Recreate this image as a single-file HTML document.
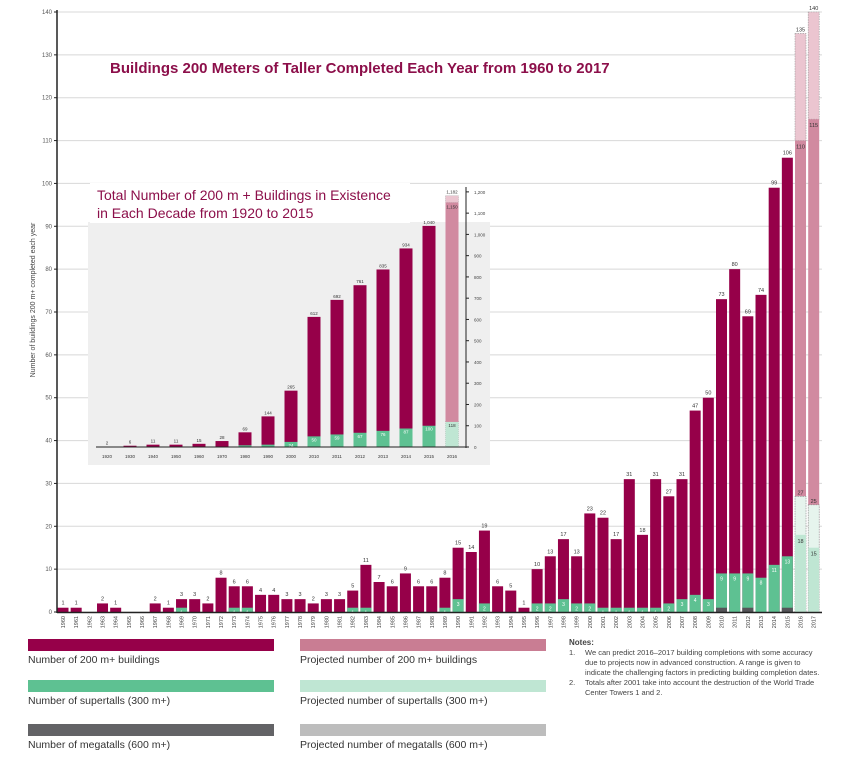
<!DOCTYPE html>
<html><head><meta charset="utf-8"><style>
body{margin:0;background:#fff;font-family:"Liberation Sans",sans-serif}
svg{display:block}
</style></head><body>
<svg id="chart" width="850" height="760" xmlns="http://www.w3.org/2000/svg" font-family="Liberation Sans, sans-serif"></svg>
<script>
const years=[];for(let y=1960;y<=2017;y++)years.push(y);
const totals=[1,1,0,2,1,0,0,2,1,3,3,2,8,6,6,4,4,3,3,2,3,3,5,11,7,6,9,6,6,8,15,14,19,6,5,1,10,13,17,13,23,22,17,31,18,31,27,31,47,50,73,80,69,74,99,106,110,115];
const projHigh=[0,0,0,0,0,0,0,0,0,0,0,0,0,0,0,0,0,0,0,0,0,0,0,0,0,0,0,0,0,0,0,0,0,0,0,0,0,0,0,0,0,0,0,0,0,0,0,0,0,0,0,0,0,0,0,0,135,140];
const supers=[0,0,0,0,0,0,0,0,0,1,0,0,0,1,1,0,0,0,0,0,0,0,1,1,0,0,0,0,0,1,3,0,2,0,0,0,2,2,3,2,2,1,1,1,1,1,2,3,4,3,9,9,9,8,11,13,18,15];
const superHigh=[0,0,0,0,0,0,0,0,0,0,0,0,0,0,0,0,0,0,0,0,0,0,0,0,0,0,0,0,0,0,0,0,0,0,0,0,0,0,0,0,0,0,0,0,0,0,0,0,0,0,0,0,0,0,0,0,27,25];
const megas=[0,0,0,0,0,0,0,0,0,0,0,0,0,0,0,0,0,0,0,0,0,0,0,0,0,0,0,0,0,0,0,0,0,0,0,0,0,0,0,0,0,0,0,0,0,0,0,0,0,0,1,0,1,0,0,1,0,0];
const yTicks=[0,10,20,30,40,50,60,70,80,90,100,110,120,130,140];
const insetCats=["1920","1930","1940","1950","1960","1970","1980","1990","2000","2010","2011","2012","2013","2014","2015","2016"];
const insetTotals=[2,6,11,11,15,28,69,144,265,612,692,761,835,934,1040,1150];
const insetLabels=["2","6","11","11","15","28","69","144","265","612","692","761","835","934","1,040","1,150"];
const insetProjHigh=1182;
const insetSupers=[0,0,0,0,0,1,8,11,24,50,59,67,76,87,100,118];
const insetSuperHigh=127;
const insetTicks=[0,100,200,300,400,500,600,700,800,900,1000,1100,1200];

const NS="http://www.w3.org/2000/svg";
const svg=document.getElementById('chart');
function el(tag,attrs,parent,text){const e=document.createElementNS(NS,tag);for(const k in attrs)e.setAttribute(k,attrs[k]);if(text!==undefined)e.textContent=text;(parent||svg).appendChild(e);return e;}
const C={m:'#960049',g:'#5ec192',k:'#555559',pp:'#d18aa0',pl:'#ebc5d0',gl:'#bfe6d3',gg:'#bdbdbd'};
const y0=612,ppu=600/140,x0=63,step=13.17,bw=11;
const Y=v=>y0-v*ppu, X=i=>x0+i*step;
yTicks.forEach(t=>{
 const l=el('line',{x1:57,x2:822,y1:Y(t),y2:Y(t),stroke:'#d8d8d8','stroke-width':1});
 
 const tx=el('text',{x:52,y:Y(t)+2,'font-size':6,'text-anchor':'end',fill:'#555'},null,String(t));
 
 el('line',{x1:54,x2:57,y1:Y(t),y2:Y(t),stroke:'#222'});
});
const yt=el('text',{x:0,y:0,'font-size':7,fill:'#444','text-anchor':'middle',transform:'translate(35,300) rotate(-90)'},null,'Number of buildings 200 m+ completed each year');

years.forEach((yr,i)=>{
 const x=X(i)-bw/2, proj=projHigh[i]>0;
 if(proj){
  const r1=el('rect',{x,y:Y(projHigh[i]),width:bw,height:Y(totals[i])-Y(projHigh[i]),fill:C.pl,stroke:'#999','stroke-dasharray':'1.5,1','stroke-width':0.6});
  
  const r=el('rect',{x,y:Y(totals[i]),width:bw,height:Y(0)-Y(totals[i]),fill:C.pp});
  
  const r2=el('rect',{x,y:Y(superHigh[i]),width:bw,height:Y(0)-Y(superHigh[i]),fill:'#e6f4ed',stroke:'#888','stroke-dasharray':'1.5,1','stroke-width':0.6});
  
  const r3=el('rect',{x,y:Y(supers[i]),width:bw,height:Y(0)-Y(supers[i]),fill:C.gl});
  
  [[projHigh[i],-2],[totals[i],8],[superHigh[i],-2],[supers[i],8]].forEach(([v,d])=>{
   const t=el('text',{x:X(i),y:Y(v)+d,'font-size':5.5,'text-anchor':'middle',fill:'#333'},null,String(v));
   });
 } else {
  if(totals[i]>0){
   const r=el('rect',{x,y:Y(totals[i]),width:bw,height:Y(0)-Y(totals[i]),fill:C.m});
   
   const t=el('text',{x:X(i),y:Y(totals[i])-3,'font-size':5.5,'text-anchor':'middle',fill:'#333'},null,String(totals[i]));
   
  }
  if(supers[i]>0){
   const r=el('rect',{x,y:Y(supers[i]),width:bw,height:Y(0)-Y(supers[i]),fill:C.g});
   
   const t=el('text',{x:X(i),y:Y(supers[i])+7,'font-size':5,'text-anchor':'middle',fill:'#fff'},null,String(supers[i]));
   
  }
  if(megas[i]>0){
   const r=el('rect',{x,y:Y(megas[i]),width:bw,height:Y(0)-Y(megas[i]),fill:C.k});
   
  }
 }
 const xl=el('text',{x:0,y:0,'font-size':5.5,fill:'#444','text-anchor':'end',transform:`translate(${X(i)+2},${y0+4}) rotate(-90)`},null,String(yr));
 
});
el('line',{x1:57,x2:57,y1:10,y2:613,stroke:'#222','stroke-width':1.5});
el('line',{x1:57,x2:822,y1:612.5,y2:612.5,stroke:'#222','stroke-width':1.5});
const mt=el('text',{x:110,y:73,'font-size':15,'font-weight':'bold',fill:'#8c0f4a'},null,'Buildings 200 Meters of Taller Completed Each Year from 1960 to 2017');

const ig=el('g',{});
el('rect',{x:88,y:222,width:402,height:243,fill:'#efefef'},ig);
el('rect',{x:90,y:183,width:320,height:40,fill:'#fff'},ig);
const it1=el('text',{x:97,y:200,'font-size':14,fill:'#8c0f4a'},ig,'Total Number of 200 m + Buildings in Existence');

el('text',{x:97,y:218,'font-size':14,fill:'#8c0f4a'},ig,'in Each Decade from 1920 to 2015');
const iy0=447,ippu=0.2126,ix0=107,istep=23,ibw=13;
const IY=v=>iy0-v*ippu, IX=i=>ix0+i*istep;
insetTicks.forEach(t=>{
 el('line',{x1:466,x2:469,y1:IY(t),y2:IY(t),stroke:'#222'},ig);
 const tx=el('text',{x:474,y:IY(t)+2,'font-size':4.5,fill:'#444'},ig,t>=1000?('1,'+String(t).slice(1)):String(t));
 
});
insetCats.forEach((c,i)=>{
 const x=IX(i)-ibw/2, last=i===insetCats.length-1;
 if(last){
  el('rect',{x,y:IY(insetProjHigh),width:ibw,height:IY(insetTotals[i])-IY(insetProjHigh),fill:C.pl,stroke:'#999','stroke-dasharray':'1,1','stroke-width':0.5},ig);
  el('text',{x:IX(i),y:IY(insetProjHigh)-2,'font-size':4.5,'text-anchor':'middle',fill:'#333'},ig,'1,182');
  el('rect',{x,y:IY(insetSuperHigh),width:ibw,height:IY(0)-IY(insetSuperHigh),fill:'#e6f4ed',stroke:'#999','stroke-dasharray':'1,1','stroke-width':0.5},ig);
  el('text',{x:IX(i),y:IY(insetSuperHigh)-1,'font-size':4.5,'text-anchor':'middle',fill:'#333'},ig,String(insetSuperHigh));
 }
 const r=el('rect',{x,y:IY(insetTotals[i]),width:ibw,height:IY(0)-IY(insetTotals[i]),fill:last?C.pp:C.m},ig);
 
 const t=el('text',{x:IX(i),y:IY(insetTotals[i])+(last?6:-2),'font-size':4.5,'text-anchor':'middle',fill:'#333'},ig,insetLabels[i]);
 
 if(insetSupers[i]>0){
  const g=el('rect',{x,y:IY(insetSupers[i]),width:ibw,height:IY(0)-IY(insetSupers[i]),fill:last?C.gl:C.g},ig);
  
  if(insetSupers[i]>=24){el('text',{x:IX(i),y:IY(insetSupers[i])+5,'font-size':4.5,'text-anchor':'middle',fill:last?'#333':'#fff'},ig,String(insetSupers[i]));}
 }
 const xl=el('text',{x:IX(i),y:458,'font-size':4.5,'text-anchor':'middle',fill:'#333'},ig,c);
 
});
el('line',{x1:96,x2:466,y1:447,y2:447,stroke:'#222','stroke-width':1},ig);
el('line',{x1:466,x2:466,y1:187,y2:448,stroke:'#222','stroke-width':1},ig);
const leg=[[28,639,C.m,'Number of 200 m+ buildings'],[28,680,C.g,'Number of supertalls (300 m+)'],[28,724,'#636366','Number of megatalls (600 m+)'],
[300,639,'#c97d93','Projected number of 200 m+ buildings'],[300,680,'#bfe6d3','Projected number of supertalls (300 m+)'],[300,724,C.gg,'Projected number of megatalls (600 m+)']];
leg.forEach(([x,y,c,t])=>{
 const g=el('g',{});
 el('rect',{x,y,width:246,height:12,fill:c},g);
 el('text',{x,y:y+24,'font-size':10.5,fill:'#333'},g,t);
});
const notes=el('g',{'font-size':7.5,fill:'#444'});
el('text',{x:569,y:645,'font-weight':'bold','font-size':8},notes,'Notes:');
[['1.',655,'We can predict 2016–2017 building completions with some accuracy'],['',665,'due to projects now in advanced construction.  A range is given to'],['',675,'indicate the challenging factors in predicting building completion dates.'],['2.',685,'Totals after 2001 take into account the destruction of the World Trade'],['',695,'Center Towers 1 and 2.']].forEach(([n,y,t])=>{
 if(n)el('text',{x:569,y},notes,n);
 el('text',{x:585,y},notes,t);
});
</script>
</body></html>
